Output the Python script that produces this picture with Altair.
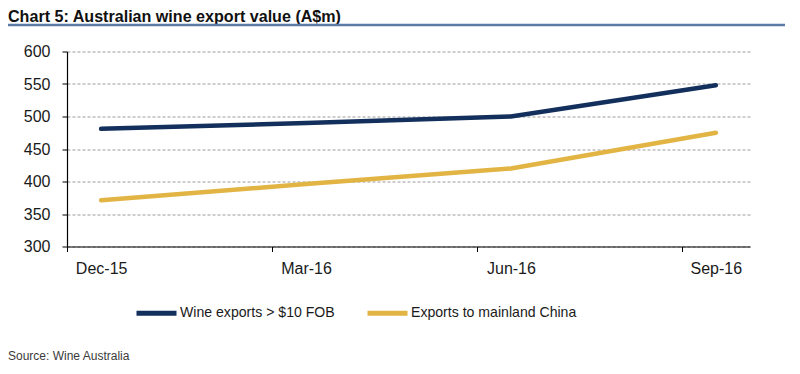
import altair as alt
import pandas as pd

# ---- data ----
periods = ["Dec-15", "Mar-16", "Jun-16", "Sep-16"]
month_offset = [0, 3, 6, 9]  # months since Dec-15
series_names = ["Wine exports > $10 FOB", "Exports to mainland China"]
wine_fob = [481, 490, 500, 548]
china = [371, 396, 420, 475]
y_ticks = [300, 350, 400, 450, 500, 550, 600]
title_text = "Chart 5: Australian wine export value (A$m)"
source_text = "Source: Wine Australia"
colors = ["#132f5c", "#e2b443"]

rows = []
for name, vals in zip(series_names, [wine_fob, china]):
    for p, m, v in zip(periods, month_offset, vals):
        rows.append({"series": name, "period": p, "m": m, "value": v})
df = pd.DataFrame(rows)

# x axis: labels at data months, ticks half a month before each quarter
tick_vals = []
for m in month_offset:
    tick_vals += [m - 0.5, m]
label_expr = ""
for p, m in zip(periods, month_offset):
    label_expr += f"datum.value == {m} ? '{p}' : "
label_expr += "''"

FONT = "Liberation Sans"
TXT = "#1a1a1a"

lines = alt.Chart(df).mark_line(strokeWidth=4.5, strokeCap="round").encode(
    x=alt.X(
        "m:Q",
        scale=alt.Scale(domain=[-0.5, 9.5], nice=False, zero=False),
        axis=alt.Axis(
            title=None,
            values=tick_vals,
            labelExpr=label_expr,
            labelOverlap=False,
            labelFlush=False,
            labelFontSize=16,
            labelFont=FONT,
            labelColor=TXT,
            labelPadding=9,
            tickSize=5,
            tickColor="#000000",
            tickOpacity={"condition": {"test": "datum.value % 3 == 0", "value": 0}, "value": 1},
            domainColor="#000000",
            domainWidth=1.2,
            grid=False,
        ),
    ),
    y=alt.Y(
        "value:Q",
        scale=alt.Scale(domain=[300, 600], nice=False, zero=False),
        axis=alt.Axis(
            title=None,
            values=y_ticks,
            labelFontSize=16,
            labelFont=FONT,
            labelColor=TXT,
            labelPadding=12,
            tickSize=5,
            tickColor="#000000",
            domainColor="#000000",
            domainWidth=1.2,
            grid=True,
            gridColor="#9a9a9a",
            gridDash=[3, 2],
            gridWidth=1,
        ),
    ),
    color=alt.Color(
        "series:N",
        scale=alt.Scale(domain=series_names, range=colors),
        legend=alt.Legend(
            title=None,
            orient="none",
            legendX=67,
            legendY=239,
            direction="horizontal",
            symbolType="stroke",
            symbolSize=1600,
            symbolStrokeWidth=5,
            labelFontSize=14.1,
            labelFont=FONT,
            labelColor=TXT,
            labelOffset=1,
            labelLimit=0,
            columnPadding=22,
            padding=0,
        ),
    ),
    order="m:Q",
)

title = alt.Chart(pd.DataFrame({"t": [title_text]})).mark_text(
    align="left", baseline="alphabetic", fontSize=16.1, fontWeight="bold",
    font=FONT, color="#111111"
).encode(text="t:N", x=alt.value(-59), y=alt.value(-29.5))

underline = alt.Chart(pd.DataFrame({"t": [title_text]})).mark_rule(
    color="#5b7ba6", strokeWidth=2.5
).encode(x=alt.value(-59), x2=alt.value(718), y=alt.value(-26.5))

source = alt.Chart(pd.DataFrame({"t": [source_text]})).mark_text(
    align="left", baseline="alphabetic", fontSize=12, font=FONT, color="#3a3a3a"
).encode(text="t:N", x=alt.value(-59), y=alt.value(308))

chart = alt.layer(lines, title, underline, source).properties(
    width=683,
    height=195,
    autosize=alt.AutoSizeParams(type="none"),
    padding={"left": 59, "top": 43.5, "right": 41, "bottom": 116},
).configure_view(stroke=None)

chart.save("out.html", embed_options={"renderer": "svg", "actions": False})
